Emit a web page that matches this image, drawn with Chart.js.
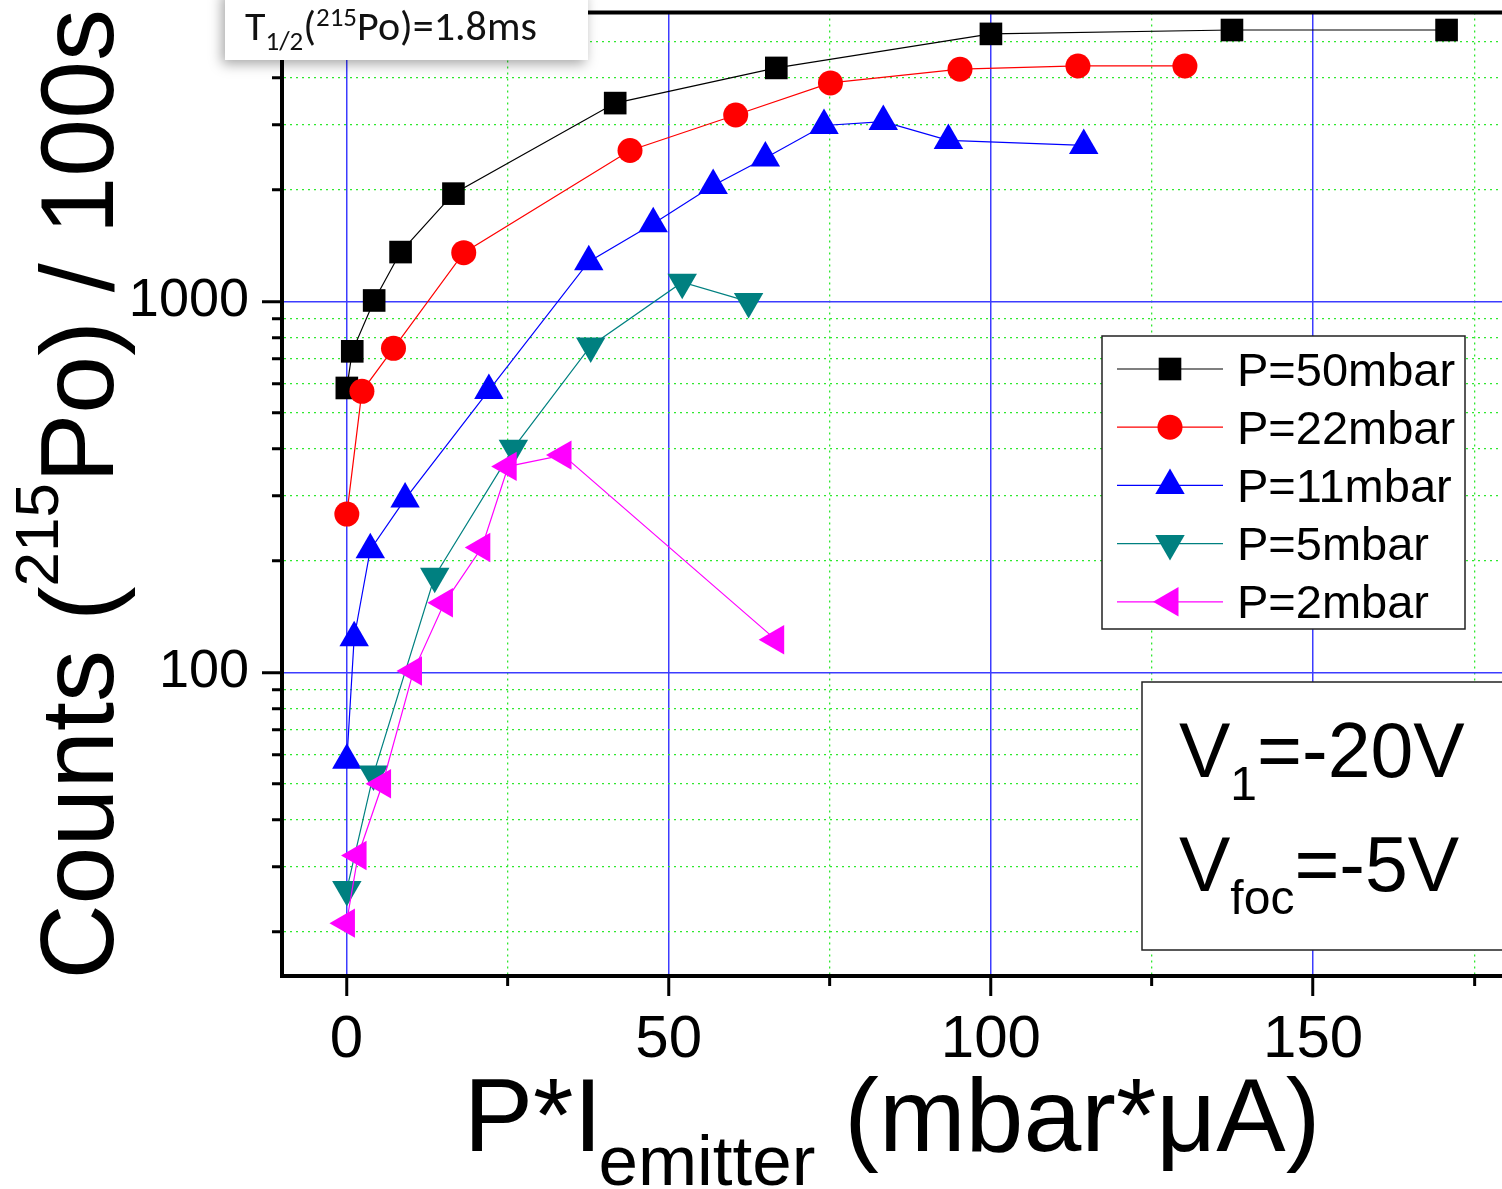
<!DOCTYPE html>
<html>
<head>
<meta charset="utf-8">
<title>215Po counts vs P*I emitter</title>
<script src="https://cdn.jsdelivr.net/npm/chart.js@4.4.1/dist/chart.umd.min.js"></script>
<style>
  html, body { margin: 0; padding: 0; background: #fff; overflow: hidden; }
  canvas { display: block; }
</style>
</head>
<body>
<canvas id="c" width="1502" height="1189"></canvas>
<script>
// P*I_emitter (mbar*uA) and 215Po counts per 100 s, one pair of arrays per gas pressure
const x50 = [0.06, 0.9, 4.3, 8.4, 16.6, 41.7, 66.7, 100.0, 137.4, 170.7];
const y50 = [584, 733, 1005, 1357, 1950, 3420, 4254, 5254, 5382, 5382];

const x22 = [0.06, 2.4, 7.3, 18.2, 44.0, 60.4, 75.1, 95.2, 113.5, 130.1];
const y22 = [267, 572, 747, 1352, 2548, 3177, 3877, 4220, 4306, 4306];

const x11 = [0.06, 1.2, 3.7, 9.1, 22.1, 37.6, 47.6, 56.9, 65.0, 74.1, 83.3, 93.4, 114.4];
const y11 = [58, 124, 214, 293, 575, 1278, 1617, 2050, 2432, 2976, 3050, 2713, 2630];

const x5 = [0.06, 4.2, 13.7, 25.9, 37.9, 52.1, 62.4];
const y5 = [26.0, 53.2, 181.5, 402, 758, 1126, 998];

const x2 = [0.0, 1.8, 5.6, 10.4, 15.2, 21.0, 25.1, 33.6, 66.6];
const y2 = [21.1, 32.1, 50.1, 100.8, 154, 217, 359, 385, 122.5];

const seriesLabels = ['P=50mbar', 'P=22mbar', 'P=11mbar', 'P=5mbar', 'P=2mbar'];

// axis ticks: labelled (major) and unlabelled (minor) positions
const xMajorTicks = [0, 50, 100, 150];
const xMinorTicks = [25, 75, 125, 175];
const yMajorTicks = [100, 1000];
const yMinorTicks = [20, 30, 40, 50, 60, 70, 80, 90,
                     200, 300, 400, 500, 600, 700, 800, 900,
                     2000, 3000, 4000, 5000];

// marker and line appearance per series
const seriesStyles = [
  { color: '#000000', shape: 'rect',     rotation: 0,   radius: 16 },
  { color: '#ff0000', shape: 'circle',   rotation: 0,   radius: 12.5 },
  { color: '#0000ff', shape: 'triangle', rotation: 0,   radius: 17 },
  { color: '#008080', shape: 'triangle', rotation: 180, radius: 17 },
  { color: '#ff00ff', shape: 'triangle', rotation: -90, radius: 17 }
];

const seriesX = [x50, x22, x11, x5, x2];
const seriesY = [y50, y22, y11, y5, y2];

const SANS = '"Liberation Sans", Arial, Helvetica, sans-serif';
const NOTE_FONT = 'Carlito, Calibri, Lato, "Open Sans", sans-serif';
const MAJOR_GRID = 'rgb(60,60,255)';
const MINOR_GRID = '#2fe82f';

const isXMajor = c => !!(c.tick && xMajorTicks.includes(c.tick.value));
const isYMajor = c => !!(c.tick && yMajorTicks.includes(c.tick.value));

// draws a row of text pieces (normal / sub / superscript), returns end x
function measureRuns(ctx, runs) {
  let w = 0;
  for (const r of runs) {
    ctx.font = r.size + 'px ' + (r.family || SANS);
    w += ctx.measureText(r.t).width + (r.kern || 0);
  }
  return w;
}
function drawRuns(ctx, runs, x, y) {
  for (const r of runs) {
    ctx.font = r.size + 'px ' + (r.family || SANS);
    ctx.fillText(r.t, x, y + (r.dy || 0));
    x += ctx.measureText(r.t).width + (r.kern || 0);
  }
  return x;
}

const decor = {
  id: 'decor',
  afterDraw(chart) {
    const ctx = chart.ctx;
    const a = chart.chartArea;
    ctx.save();

    // top frame line
    ctx.strokeStyle = '#000';
    ctx.lineWidth = 4;
    ctx.beginPath();
    ctx.moveTo(a.left - 2, a.top);
    ctx.lineTo(a.right, a.top);
    ctx.stroke();

    ctx.fillStyle = '#000';
    ctx.textAlign = 'left';
    ctx.textBaseline = 'alphabetic';

    // y axis title, rotated
    const yTitle = [
      { t: 'Counts (', size: 104 },
      { t: '215', size: 62, dy: -55 },
      { t: 'Po) / 100s', size: 104 }
    ];
    const yw = measureRuns(ctx, yTitle);
    ctx.save();
    ctx.translate(113, (a.top + a.bottom) / 2);
    ctx.rotate(-Math.PI / 2);
    drawRuns(ctx, yTitle, -yw / 2, 0);
    ctx.restore();

    // x axis title
    const xTitle = [
      { t: 'P*I', size: 104, kern: -4 },
      { t: 'emitter', size: 71, dy: 34 },
      { t: ' (mbar*\u03bcA)', size: 104 }
    ];
    const xw = measureRuns(ctx, xTitle);
    drawRuns(ctx, xTitle, (a.left + a.right) / 2 - xw / 2, 1151);

    // legend
    const lg = { x: 1102, y: 336, w: 363, h: 293, row0: 369, step: 58.2 };
    ctx.fillStyle = '#fff';
    ctx.fillRect(lg.x, lg.y, lg.w, lg.h);
    ctx.strokeStyle = '#222';
    ctx.lineWidth = 1.5;
    ctx.strokeRect(lg.x, lg.y, lg.w, lg.h);
    chart.data.datasets.forEach((ds, i) => {
      const st = seriesStyles[i];
      const ry = lg.row0 + i * lg.step;
      ctx.strokeStyle = st.color;
      ctx.lineWidth = 1.2;
      ctx.beginPath();
      ctx.moveTo(1117, ry);
      ctx.lineTo(1223, ry);
      ctx.stroke();
      ctx.fillStyle = st.color;
      Chart.helpers.drawPoint(ctx, { pointStyle: st.shape, rotation: st.rotation, radius: st.radius, borderWidth: 0 }, 1170, ry);
      ctx.fillStyle = '#000';
      ctx.font = '47px ' + SANS;
      ctx.fillText(ds.label, 1237, ry + 16.5);
    });

    // voltage settings box
    ctx.fillStyle = '#fff';
    ctx.fillRect(1142, 682, 380, 268);
    ctx.strokeStyle = '#222';
    ctx.lineWidth = 1.5;
    ctx.strokeRect(1142, 682, 380, 268);
    ctx.fillStyle = '#000';
    drawRuns(ctx, [
      { t: 'V', size: 77 },
      { t: '1', size: 48, dy: 23 },
      { t: '=-20V', size: 77 }
    ], 1179, 777);
    drawRuns(ctx, [
      { t: 'V', size: 77 },
      { t: 'foc', size: 48, dy: 23 },
      { t: '=-5V', size: 77 }
    ], 1179, 891);

    // half-life note with drop shadow
    ctx.save();
    ctx.shadowColor = 'rgba(0,0,0,0.35)';
    ctx.shadowBlur = 12;
    ctx.shadowOffsetX = -3;
    ctx.shadowOffsetY = 4;
    ctx.fillStyle = '#fff';
    ctx.fillRect(225, -10, 363, 70);
    ctx.restore();
    ctx.fillStyle = '#111';
    drawRuns(ctx, [
      { t: 'T', size: 42, family: NOTE_FONT },
      { t: '1/2', size: 27, dy: 10, family: NOTE_FONT },
      { t: '(', size: 42, family: NOTE_FONT },
      { t: '215', size: 27, dy: -14, family: NOTE_FONT },
      { t: 'Po)=1.8ms', size: 42, family: NOTE_FONT }
    ], 245, 39.5);

    ctx.restore();
  }
};

const datasets = seriesLabels.map((label, i) => {
  const st = seriesStyles[i];
  return {
    label,
    data: seriesX[i].map((x, k) => ({ x, y: seriesY[i][k] })),
    borderColor: st.color,
    backgroundColor: st.color,
    borderWidth: 1.2,
    tension: 0,
    pointStyle: st.shape,
    pointRotation: st.rotation,
    pointRadius: st.radius,
    pointHoverRadius: st.radius,
    pointBorderWidth: 0,
    pointBackgroundColor: st.color,
    order: seriesLabels.length - i,
    clip: false
  };
});

new Chart(document.getElementById('c'), {
  type: 'line',
  data: { datasets },
  options: {
    responsive: false,
    devicePixelRatio: 1,
    animation: false,
    events: [],
    layout: { autoPadding: false, padding: { top: 12.5, right: 0, bottom: 0, left: 0 } },
    plugins: {
      legend: { display: false },
      tooltip: { enabled: false },
      title: { display: false }
    },
    scales: {
      x: {
        type: 'linear',
        position: 'bottom',
        min: -10,
        max: 179.3,
        bounds: 'data',
        afterBuildTicks: s => {
          s.ticks = xMajorTicks.concat(xMinorTicks).sort((p, q) => p - q).map(v => ({ value: v }));
        },
        afterFit: s => { s.height = 213; s.paddingLeft = 0; s.paddingRight = 0; },
        ticks: {
          autoSkip: false,
          maxRotation: 0,
          minRotation: 0,
          padding: 8,
          color: '#000',
          font: { family: SANS, size: 60 },
          callback: v => xMajorTicks.includes(v) ? String(v) : ''
        },
        grid: {
          color: c => isXMajor(c) ? MAJOR_GRID : MINOR_GRID,
          lineWidth: c => isXMajor(c) ? 1.5 : 1.3,
          tickLength: 20,
          tickWidth: 3,
          tickColor: '#000',
          tickBorderDash: c => isXMajor(c) ? [] : [8, 100]
        },
        border: {
          display: true,
          color: '#000',
          width: 4,
          dash: c => isXMajor(c) ? [] : [2, 4]
        }
      },
      y: {
        type: 'logarithmic',
        position: 'left',
        min: 15.2,
        max: 6000,
        bounds: 'data',
        afterBuildTicks: s => {
          s.ticks = yMajorTicks.concat(yMinorTicks).sort((p, q) => p - q).map(v => ({ value: v }));
        },
        afterFit: s => { s.width = 282; s.paddingTop = 0; s.paddingBottom = 0; },
        ticks: {
          autoSkip: false,
          padding: 13,
          color: '#000',
          font: { family: SANS, size: 54 },
          callback: v => yMajorTicks.includes(v) ? String(v) : ''
        },
        grid: {
          color: c => isYMajor(c) ? MAJOR_GRID : MINOR_GRID,
          lineWidth: c => isYMajor(c) ? 1.5 : 1.3,
          tickLength: 20,
          tickWidth: 3,
          tickColor: '#000',
          tickBorderDash: c => isYMajor(c) ? [] : [0, 10, 20, 0]
        },
        border: {
          display: true,
          color: '#000',
          width: 4,
          dash: c => isYMajor(c) ? [] : [2, 4]
        }
      }
    }
  },
  plugins: [decor]
});
</script>
</body>
</html>
